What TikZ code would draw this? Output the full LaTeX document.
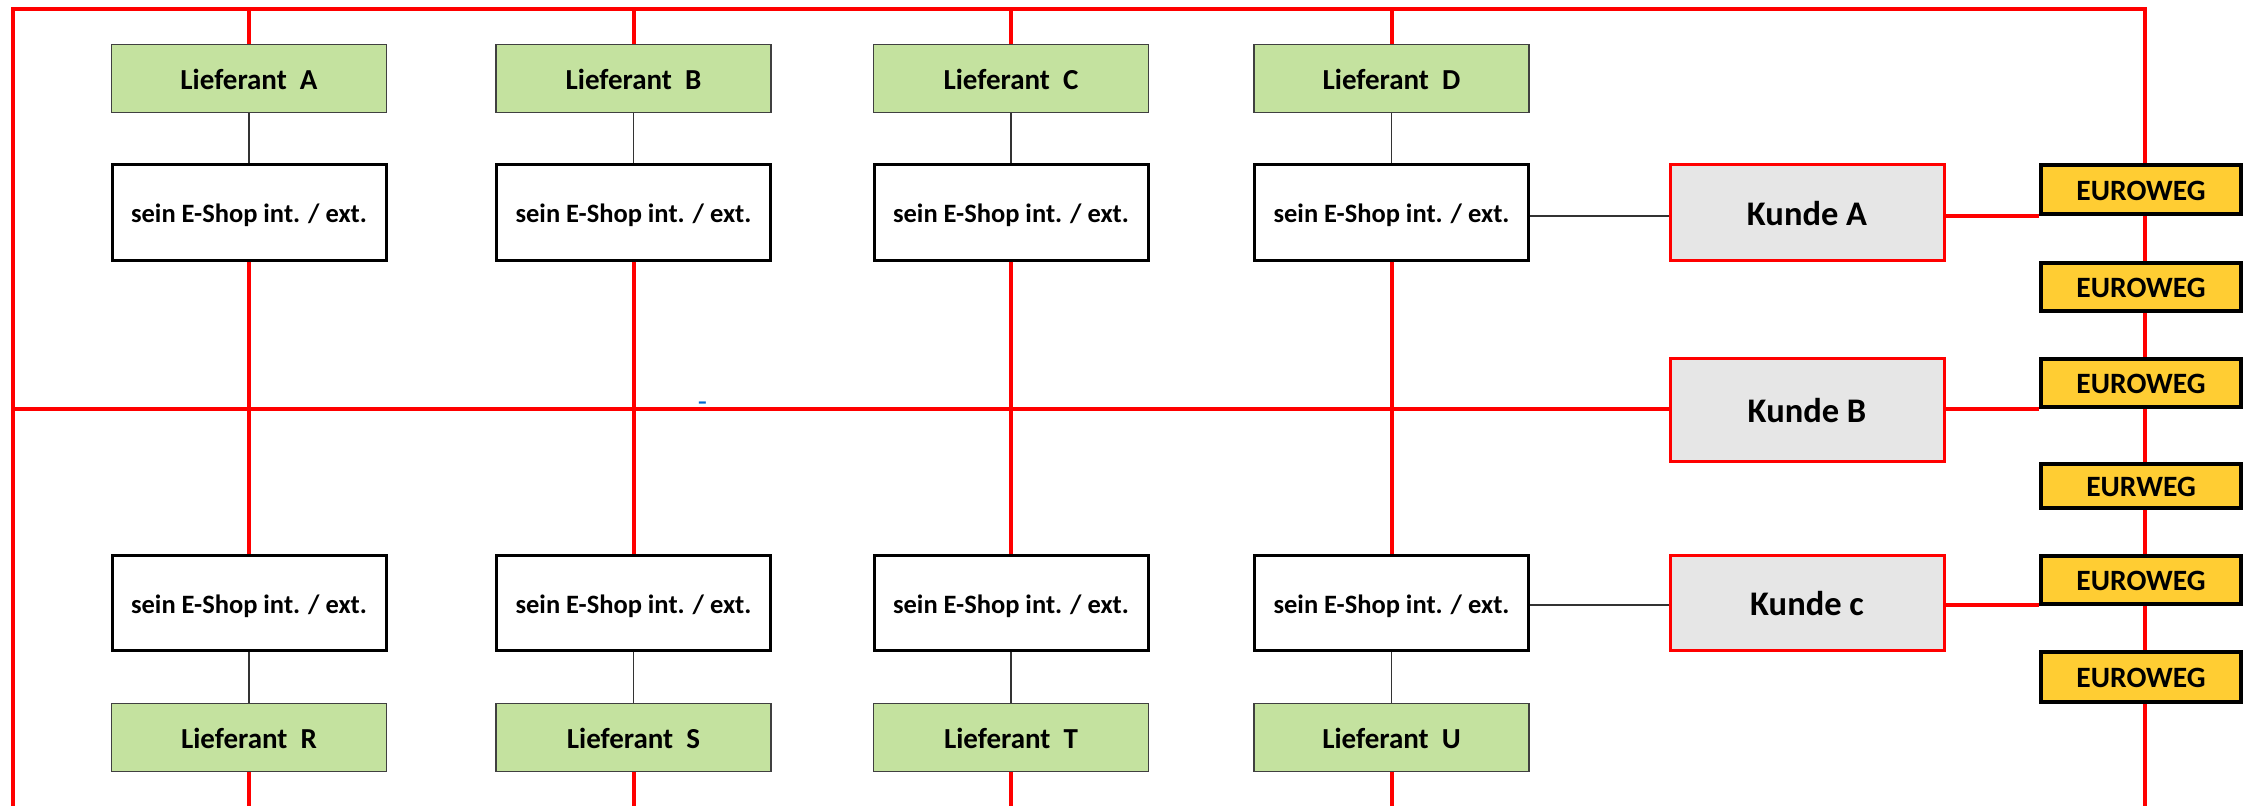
\documentclass[tikz,border=0pt]{standalone}
\usepackage{fontspec}
\setmainfont{Carlito}
\definecolor{liefgreen}{HTML}{C4E29F}
\definecolor{kundegray}{HTML}{E6E6E6}
\definecolor{eurogelb}{HTML}{FFCD33}
\definecolor{dashblue}{HTML}{0066CC}
\begin{document}
\begin{tikzpicture}[x=1pt,y=-1pt,
  redline/.style={draw=red,line width=4pt,line join=miter},
  thinline/.style={draw=black!80,line width=1.6pt},
  liefbox/.style={draw=black!75,line width=1.5pt,fill=liefgreen,minimum width=275pt,minimum height=68pt,inner sep=0pt,text height=21.6pt,text depth=0pt,font=\fontsize{29}{30}\selectfont\bfseries},
  shopbox/.style={draw=black,line width=3pt,fill=white,minimum width=274pt,inner sep=0pt,text height=21.4pt,text depth=0pt,font=\fontsize{26.5}{28}\selectfont\bfseries},
  kundebox/.style={draw=red,line width=3pt,fill=kundegray,minimum width=274pt,inner sep=0pt,text height=26pt,text depth=0pt,font=\fontsize{34.5}{36}\selectfont\bfseries},
  eurobox/.style={draw=black,line width=4pt,fill=eurogelb,minimum width=200pt,inner sep=0pt,text height=21pt,text depth=0pt,font=\fontsize{29.5}{31}\selectfont\bfseries}]
\useasboundingbox (0,0) rectangle (2255,806);
\fill[white] (0,0) rectangle (2255,806);

% Lieferanten top
\node[liefbox] (lA) at (249,78.5) {Lieferant\ \ A};
\node[liefbox] (lB) at (633.5,78.5) {Lieferant\ \ B};
\node[liefbox] (lC) at (1011,78.5) {Lieferant\ \ C};
\node[liefbox] (lD) at (1391.5,78.5) {Lieferant\ \ D};
% shops top
\node[shopbox,minimum height=96pt] (sA) at (249,212) {sein E-Shop int. / ext.};
\node[shopbox,minimum height=96pt] (sB) at (633.5,212) {sein E-Shop int. / ext.};
\node[shopbox,minimum height=96pt] (sC) at (1011,212) {sein E-Shop int. / ext.};
\node[shopbox,minimum height=96pt] (sD) at (1391.5,212) {sein E-Shop int. / ext.};
% shops bottom
\node[shopbox,minimum height=95pt] (tA) at (249,602.5) {sein E-Shop int. / ext.};
\node[shopbox,minimum height=95pt] (tB) at (633.5,602.5) {sein E-Shop int. / ext.};
\node[shopbox,minimum height=95pt] (tC) at (1011,602.5) {sein E-Shop int. / ext.};
\node[shopbox,minimum height=95pt] (tD) at (1391.5,602.5) {sein E-Shop int. / ext.};
% Lieferanten bottom
\node[liefbox] (rA) at (249,737.5) {Lieferant\ \ R};
\node[liefbox] (rB) at (633.5,737.5) {Lieferant\ \ S};
\node[liefbox] (rC) at (1011,737.5) {Lieferant\ \ T};
\node[liefbox] (rD) at (1391.5,737.5) {Lieferant\ \ U};

% Kunden
\node[kundebox,minimum height=96pt] (kA) at (1807,212) {Kunde A};
\node[kundebox,minimum height=103pt] (kB) at (1807,409.5) {Kunde B};
\node[kundebox,minimum height=95pt] (kC) at (1807,602.5) {Kunde c};

% EUROWEG
\node[eurobox,minimum height=49pt] (e1) at (2141,189.5) {EUROWEG};
\node[eurobox,minimum height=48pt] (e2) at (2141,287) {EUROWEG};
\node[eurobox,minimum height=48pt] (e3) at (2141,383) {EUROWEG};
\node[eurobox,minimum height=44pt] (e4) at (2141,486) {EURWEG};
\node[eurobox,minimum height=48pt] (e5) at (2141,580) {EUROWEG};
\node[eurobox,minimum height=50pt] (e6) at (2141,677) {EUROWEG};

% frame coordinates
\coordinate (tl) at (13,9);
\coordinate (tr) at (2145,9);
\coordinate (bl) at (13,806);
\coordinate (br) at (2145,806);

% outer red frame
\draw[redline] (bl) -- (tl) -- (tr) -- (tr |- e1.north);
\draw[redline] (tr |- e1.south) -- (tr |- e2.north);
\draw[redline] (tr |- e2.south) -- (tr |- e3.north);
\draw[redline] (tr |- e3.south) -- (tr |- e4.north);
\draw[redline] (tr |- e4.south) -- (tr |- e5.north);
\draw[redline] (tr |- e5.south) -- (tr |- e6.north);
\draw[redline] (tr |- e6.south) -- (br);

% main horizontal
\draw[redline] (13,409) -- (kB.west |- 0,409);
\draw[redline] (kB.east |- 0,409) -- (e3.west |- 0,409);

% Kunde A / c red links
\draw[redline] (kA.east |- 0,216) -- (e1.west |- 0,216);
\draw[redline] (kC.east |- 0,605) -- (e5.west |- 0,605);

% thin links shop -> Kunde
\draw[thinline] (sD.east |- 0,216) -- (kA.west |- 0,216);
\draw[thinline] (tD.east |- 0,605) -- (kC.west |- 0,605);

% columns
\foreach \c in {A,B,C,D}{
  \draw[redline] (tl -| l\c.north) -- (l\c.north);
  \draw[thinline] (l\c.south) -- (s\c.north);
  \draw[redline] (s\c.south) -- (t\c.north);
  \draw[thinline] (t\c.south) -- (r\c.north);
  \draw[redline] (r\c.south) -- (bl -| r\c.south);
}

% small blue dash
\node[text=dashblue,anchor=base,inner sep=0pt,font=\fontsize{30}{30}\selectfont] (dash) at (702.5,411) {-};
\end{tikzpicture}
\end{document}
